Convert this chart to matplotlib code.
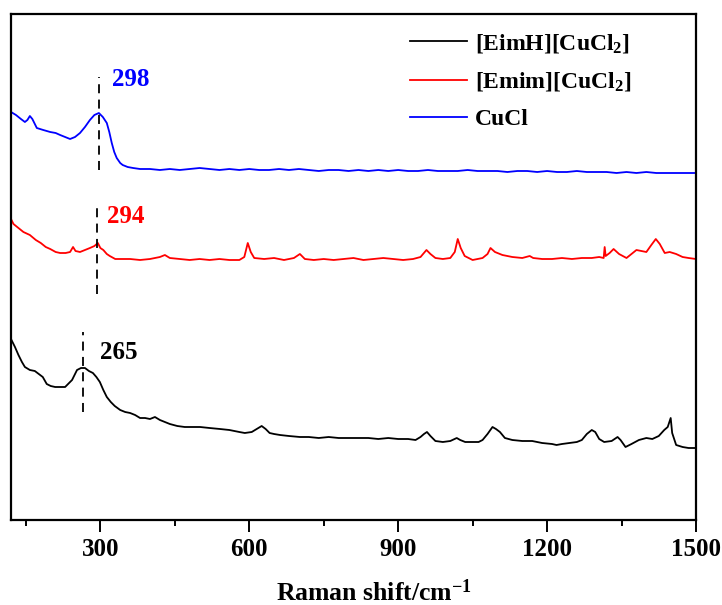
import matplotlib
matplotlib.use("Agg")
import matplotlib.pyplot as plt

# ---------------- data (arbitrary intensity units, offset traces) ----------------
cucl_x = [120, 130, 140, 148, 153, 158, 163, 172, 185, 199, 210, 219, 229, 239, 249, 259, 269, 279, 288, 297,
          305, 313, 318, 323, 328, 333, 340, 345, 355, 366, 380, 400, 420, 440, 460, 480, 500, 520, 540, 560,
          580, 600, 620, 640, 660, 680, 700, 720, 740, 760, 780, 800, 820, 840, 860, 880, 900, 920, 940, 960,
          980, 1000, 1020, 1040, 1060, 1080, 1100, 1120, 1140, 1160, 1180, 1200, 1220, 1240, 1260, 1280, 1300,
          1320, 1340, 1360, 1380, 1400, 1420, 1440, 1460, 1480, 1500]
cucl_y = [408, 405, 401, 398, 400, 404, 401, 392, 390, 388, 387, 385, 383, 381, 383, 387, 393, 400, 405, 407,
          403, 397, 388, 377, 368, 362, 357, 355, 353, 352, 351, 351, 350, 351, 350, 351, 352, 351, 350, 351,
          350, 351, 350, 350, 351, 350, 351, 350, 349, 350, 350, 349, 350, 349, 350, 349, 350, 349, 349, 350,
          349, 349, 349, 350, 349, 349, 349, 348, 349, 349, 348, 349, 348, 348, 349, 348, 348,
          348, 347, 348, 347, 348, 347, 347, 347, 347, 347]

emim_x = [120, 125, 135, 145, 158, 170, 180, 190, 199, 210, 219, 230, 239, 245, 250, 259, 269, 279, 288, 295,
          300, 306, 313, 319, 330, 345, 360, 380, 400, 420, 430, 440, 460, 480, 500, 520, 540, 560, 580, 590,
          597, 603, 610, 630, 650, 670, 690, 702, 712, 730, 750, 770, 790, 810, 830, 850, 870, 890, 910, 930,
          945, 957, 965, 975, 990, 1005, 1014, 1020, 1026, 1034, 1050, 1070, 1080, 1086, 1095, 1110, 1130,
          1150, 1165, 1172, 1190, 1210, 1230, 1250, 1270, 1290, 1305, 1314, 1316, 1318, 1326, 1334, 1345,
          1360, 1370, 1380, 1390, 1400, 1410, 1419, 1427, 1437, 1447, 1460, 1473, 1485, 1500]
emim_y = [301, 296, 292, 288, 285, 280, 277, 273, 271, 268, 267, 267, 268, 273, 269, 268, 270, 272, 274, 277,
          272, 270, 266, 264, 261, 261, 261, 260, 261, 263, 265, 262, 261, 260, 261, 260, 261, 260, 260, 263,
          277, 268, 262, 261, 262, 260, 262, 266, 261, 260, 261, 260, 261, 262, 260, 261, 262, 261, 260, 261,
          263, 270, 266, 262, 261, 262, 268, 281, 272, 264, 260, 262, 266, 272, 268, 265, 263,
          262, 264, 262, 261, 261, 262, 261, 262, 262, 263, 262, 273, 264, 267, 271, 266,
          262, 266, 270, 269, 268, 275, 281, 276, 267, 268, 266, 263, 262, 261]

eimh_x = [120, 128, 135, 142, 148, 158, 168, 176, 184, 192, 200, 209, 220, 229, 235, 243, 253, 261, 269, 277,
          285, 292, 299, 306, 313, 321, 329, 340, 350, 360, 370, 380, 390, 400, 410, 420, 430, 440, 455, 470,
          485, 501, 520, 541, 560, 580, 591, 605, 615, 625, 633, 641, 650, 662, 680, 702, 720, 740, 760, 780,
          800, 823, 840, 860, 880, 900, 920, 935, 945, 952, 958, 965, 975, 990, 1005, 1018, 1025, 1035, 1050,
          1062, 1070, 1080, 1090, 1097, 1105, 1115, 1130, 1150, 1170, 1190, 1210, 1219, 1230, 1245, 1260,
          1270, 1280, 1290, 1297, 1305, 1315, 1330, 1342, 1348, 1358, 1370, 1385, 1400, 1412, 1425, 1436,
          1443, 1449, 1452, 1460, 1473, 1485, 1500]
eimh_y = [181, 173, 165, 158, 153, 150, 149, 146, 143, 136, 134, 133, 133, 133, 136, 140, 150, 152, 152, 149,
          147, 143, 138, 130, 123, 118, 114, 110, 108, 107, 105, 102, 102, 101, 103, 100, 98, 96, 94, 93,
          93, 93, 92, 91, 90, 88, 87, 88, 91, 94, 91, 87, 86, 85, 84, 83, 83, 82, 83, 82,
          82, 82, 82, 81, 82, 81, 81, 80, 83, 86, 88, 84, 79, 78, 79, 82, 80, 78, 78,
          78, 80, 86, 93, 91, 88, 82, 80, 79, 79, 77, 76, 75, 76, 77, 78,
          80, 86, 90, 88, 81, 78, 79, 83, 80, 73, 76, 80, 82, 81, 84, 90,
          93, 102, 87, 75, 73, 72, 72]

series_labels = ["[EimH][CuCl$_2$]", "[Emim][CuCl$_2$]", "CuCl"]
series_colors = ["black", "red", "blue"]

peak_pos = [265, 294, 298]            # EimH, Emim, CuCl
peak_text = ["265", "294", "298"]
dash_lo = [108, 226, 350]
dash_hi = [188, 317, 443]
text_x = [299, 313, 323]
text_y = [168, 304, 441]

xticks = [300, 600, 900, 1200, 1500]
minor_ticks = [150, 450, 750, 1050, 1350]

# ---------------- figure ----------------
plt.rcParams['font.family'] = ['Liberation Serif', 'DejaVu Serif']
plt.rcParams['font.weight'] = 'bold'
plt.rcParams['mathtext.fontset'] = 'custom'
plt.rcParams['mathtext.rm'] = 'Liberation Serif:bold'
plt.rcParams['mathtext.it'] = 'Liberation Serif:bold'
plt.rcParams['mathtext.bf'] = 'Liberation Serif:bold'
plt.rcParams['mathtext.default'] = 'rm'

fig = plt.figure(figsize=(7.22, 6.05), dpi=100)
W, H = 722, 605
ax = fig.add_axes([11 / W, 1 - 520 / H, 685 / W, 506 / H])

ys = [eimh_y, emim_y, cucl_y]
xs = [eimh_x, emim_x, cucl_x]
for x, y, c, lab in zip(xs, ys, series_colors, series_labels):
    ax.plot(x, y, color=c, lw=1.3, label=lab)

for i in range(3):
    ax.plot([peak_pos[i], peak_pos[i]], [dash_lo[i], dash_hi[i]], color='black', lw=1.3,
            linestyle=(0, (5, 3.5)))
    ax.text(text_x[i], text_y[i], peak_text[i], color=series_colors[i], fontsize=18,
            fontweight='bold', ha='left', va='center')

ax.set_xlim(120, 1500)
ax.set_ylim(0, 506)
ax.set_yticks([])
ax.set_xticks(xticks)
ax.set_xticks(minor_ticks, minor=True)
ax.tick_params(axis='x', which='major', direction='out', length=8.6, width=1.4, labelsize=18, pad=4)
ax.tick_params(axis='x', which='minor', direction='out', length=4.3, width=1.4)
for lbl in ax.get_xticklabels():
    lbl.set_fontweight('bold')
for s in ax.spines.values():
    s.set_linewidth(1.6)

ax.set_xlabel("Raman shift/cm$^{-1}$", fontsize=18.5, fontweight='bold')
ax.xaxis.label.set_va('baseline')
ax.xaxis.set_label_coords((374 - 11) / 685, (520 - 601) / 506)

leg = ax.legend(loc='upper left', bbox_to_anchor=((410 - 11) / 685, (520 - 32) / 506),
                frameon=False, fontsize=17, handlelength=2.4, handletextpad=0.35,
                labelspacing=0.65, borderpad=0, borderaxespad=0)
for t in leg.get_texts():
    t.set_fontweight('bold')

fig.savefig("out.png", dpi=100)
